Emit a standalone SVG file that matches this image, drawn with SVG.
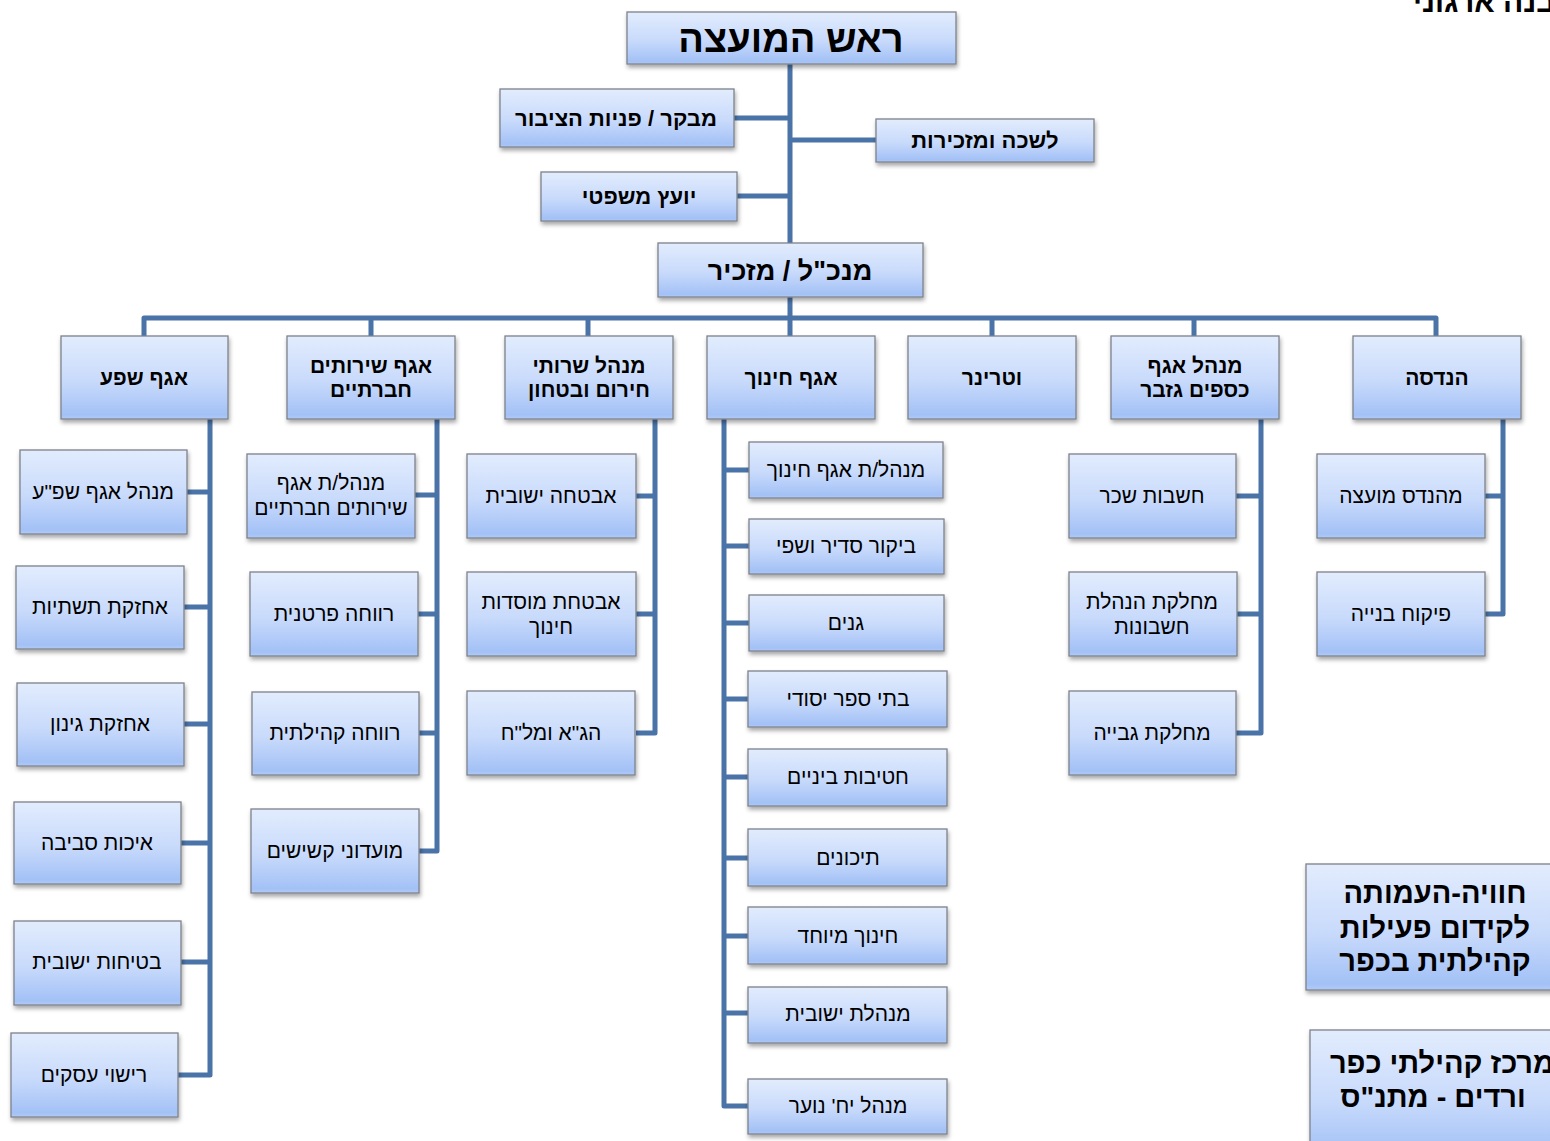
<svg xmlns="http://www.w3.org/2000/svg" width="1550" height="1141" viewBox="0 0 1550 1141">
<defs>
<linearGradient id="g" x1="0" y1="0" x2="0" y2="1">
<stop offset="0" stop-color="#e2ecfd"/>
<stop offset="0.55" stop-color="#c8dafb"/>
<stop offset="0.95" stop-color="#a3c1f6"/>
<stop offset="1" stop-color="#b2cbf7"/>
</linearGradient>
<filter id="sh" x="-10%" y="-10%" width="120%" height="130%">
<feDropShadow dx="1" dy="3" stdDeviation="2" flood-color="#000" flood-opacity="0.35"/>
</filter>
</defs>
<style>
rect.b{fill:url(#g);stroke:#7d838c;stroke-width:1.3;filter:url(#sh)}
text{font-family:"Liberation Sans",Arial,"DejaVu Sans",sans-serif;fill:#000;text-anchor:middle;direction:rtl}
.t{font-size:21px}
.h{font-size:21px;font-weight:bold}
.big{font-size:38px;font-weight:bold}
.mid{font-size:27px;font-weight:bold}
.sm{font-size:22px;font-weight:bold}
.side{font-size:29px;font-weight:bold}
#conn path{fill:none;stroke:#4a73a8;stroke-width:5;stroke-linejoin:round;stroke-linecap:butt}
</style>
<rect width="1550" height="1141" fill="#fff"/>

<text x="1413" y="12" style="font-size:30px;font-weight:bold;text-anchor:start;direction:ltr">מבנה ארגוני</text>

<g id="conn">
<path d="M790 64 V243"/>
<path d="M733 118 H790"/>
<path d="M790 140 H876"/>
<path d="M737 196 H790"/>
<path d="M790 297 V318"/>
<path d="M144 336 V318 H1436 V336"/>
<path d="M371 318 V336 M588 318 V336 M790 318 V336 M992 318 V336 M1194 318 V336"/>
<path d="M210 419 V1075 H178 M187 492 H210 M184 607 H210 M184 724 H210 M181 843 H210 M181 962 H210"/>
<path d="M437 419 V851 H419 M415 495 H437 M418 614 H437 M419 733 H437"/>
<path d="M655 419 V733 H636 M636 496 H655 M636 614 H655"/>
<path d="M724 419 V1106 H748 M724 470 H749 M724 546 H749 M724 623 H749 M724 699 H748 M724 777 H748 M724 858 H748 M724 936 H748 M724 1013 H748"/>
<path d="M1261 419 V733 H1236 M1236 496 H1261 M1236 614 H1261"/>
<path d="M1503 419 V614 H1485 M1485 496 H1503"/>
</g>

<g id="n-head"><rect class="b" x="627" y="12" width="329" height="52"/><text class="big" x="791" y="52">ראש המועצה</text></g>
<g id="n-audit"><rect class="b" x="500" y="89" width="234" height="58"/><text class="sm" x="616" y="126">מבקר / פניות הציבור</text></g>
<g id="n-office"><rect class="b" x="876" y="119" width="218" height="43"/><text class="sm" x="985" y="148">לשכה ומזכירות</text></g>
<g id="n-legal"><rect class="b" x="541" y="172" width="196" height="49"/><text class="sm" x="639" y="204">יועץ משפטי</text></g>
<g id="n-ceo"><rect class="b" x="658" y="243" width="265" height="54"/><text class="mid" x="790" y="280">מנכ"ל / מזכיר</text></g>

<g id="d-shefa"><rect class="b" x="61" y="336" width="167" height="83"/><text class="h" x="144" y="385">אגף שפע</text></g>
<g id="d-social"><rect class="b" x="287" y="336" width="168" height="83"/><text class="h" x="371" y="373">אגף שירותים</text><text class="h" x="371" y="397">חברתיים</text></g>
<g id="d-emerg"><rect class="b" x="505" y="336" width="168" height="83"/><text class="h" x="589" y="373">מנהל שרותי</text><text class="h" x="589" y="397">חירום ובטחון</text></g>
<g id="d-edu"><rect class="b" x="707" y="336" width="168" height="83"/><text class="h" x="791" y="385">אגף חינוך</text></g>
<g id="d-vet"><rect class="b" x="908" y="336" width="168" height="83"/><text class="h" x="992" y="385">וטרינר</text></g>
<g id="d-fin"><rect class="b" x="1111" y="336" width="168" height="83"/><text class="h" x="1195" y="373">מנהל אגף</text><text class="h" x="1195" y="397">כספים גזבר</text></g>
<g id="d-eng"><rect class="b" x="1353" y="336" width="168" height="83"/><text class="h" x="1437" y="385">הנדסה</text></g>

<g id="s1"><rect class="b" x="20" y="450" width="167" height="84"/><text class="t" x="103" y="499">מנהל אגף שפ"ע</text></g>
<g id="s2"><rect class="b" x="16" y="566" width="168" height="83"/><text class="t" x="100" y="614">אחזקת תשתיות</text></g>
<g id="s3"><rect class="b" x="17" y="683" width="167" height="83"/><text class="t" x="100" y="731">אחזקת גינון</text></g>
<g id="s4"><rect class="b" x="14" y="802" width="167" height="82"/><text class="t" x="97" y="850">איכות סביבה</text></g>
<g id="s5"><rect class="b" x="14" y="921" width="167" height="84"/><text class="t" x="97" y="969">בטיחות ישובית</text></g>
<g id="s6"><rect class="b" x="11" y="1033" width="167" height="84"/><text class="t" x="94" y="1082">רישוי עסקים</text></g>

<g id="w1"><rect class="b" x="247" y="454" width="168" height="84"/><text class="t" x="331" y="490">מנהל/ת אגף</text><text class="t" x="331" y="515">שירותים חברתיים</text></g>
<g id="w2"><rect class="b" x="250" y="572" width="168" height="84"/><text class="t" x="334" y="621">רווחה פרטנית</text></g>
<g id="w3"><rect class="b" x="252" y="692" width="167" height="83"/><text class="t" x="335" y="740">רווחה קהילתית</text></g>
<g id="w4"><rect class="b" x="251" y="809" width="168" height="84"/><text class="t" x="335" y="858">מועדוני קשישים</text></g>

<g id="e1"><rect class="b" x="467" y="454" width="169" height="84"/><text class="t" x="551" y="503">אבטחה ישובית</text></g>
<g id="e2"><rect class="b" x="467" y="572" width="169" height="84"/><text class="t" x="551" y="609">אבטחת מוסדות</text><text class="t" x="551" y="634">חינוך</text></g>
<g id="e3"><rect class="b" x="467" y="691" width="168" height="84"/><text class="t" x="551" y="740">הג"א ומל"ח</text></g>

<g id="c1"><rect class="b" x="749" y="442" width="194" height="56"/><text class="t" x="846" y="477">מנהל/ת אגף חינוך</text></g>
<g id="c2"><rect class="b" x="749" y="519" width="195" height="55"/><text class="t" x="846" y="553">ביקור סדיר ושפי</text></g>
<g id="c3"><rect class="b" x="749" y="595" width="195" height="56"/><text class="t" x="846" y="630">גנים</text></g>
<g id="c4"><rect class="b" x="748" y="671" width="199" height="56"/><text class="t" x="848" y="706">בתי ספר יסודי</text></g>
<g id="c5"><rect class="b" x="748" y="749" width="199" height="57"/><text class="t" x="848" y="784">חטיבות ביניים</text></g>
<g id="c6"><rect class="b" x="748" y="829" width="199" height="57"/><text class="t" x="848" y="865">תיכונים</text></g>
<g id="c7"><rect class="b" x="748" y="907" width="199" height="57"/><text class="t" x="848" y="943">חינוך מיוחד</text></g>
<g id="c8"><rect class="b" x="748" y="987" width="199" height="56"/><text class="t" x="848" y="1021">מנהלת ישובית</text></g>
<g id="c9"><rect class="b" x="748" y="1079" width="199" height="55"/><text class="t" x="848" y="1113">מנהל יח' נוער</text></g>

<g id="f1"><rect class="b" x="1069" y="454" width="167" height="84"/><text class="t" x="1152" y="503">חשבות שכר</text></g>
<g id="f2"><rect class="b" x="1069" y="572" width="168" height="84"/><text class="t" x="1152" y="609">מחלקת הנהלת</text><text class="t" x="1152" y="634">חשבונות</text></g>
<g id="f3"><rect class="b" x="1069" y="691" width="167" height="84"/><text class="t" x="1152" y="740">מחלקת גבייה</text></g>

<g id="g1"><rect class="b" x="1317" y="454" width="168" height="84"/><text class="t" x="1401" y="503">מהנדס מועצה</text></g>
<g id="g2"><rect class="b" x="1317" y="572" width="168" height="84"/><text class="t" x="1401" y="621">פיקוח בנייה</text></g>

<g id="x1"><rect class="b" x="1306" y="864" width="262" height="126"/><text class="side" x="1435" y="903">חוויה-העמותה</text><text class="side" x="1435" y="938">לקידום פעילות</text><text class="side" x="1435" y="971">קהילתית בכפר</text></g>
<g id="x2"><rect class="b" x="1310" y="1030" width="262" height="130"/><text class="side" x="1442" y="1073">מרכז קהילתי כפר</text><text class="side" x="1433" y="1107">ורדים - מתנ"ס</text></g>
</svg>
